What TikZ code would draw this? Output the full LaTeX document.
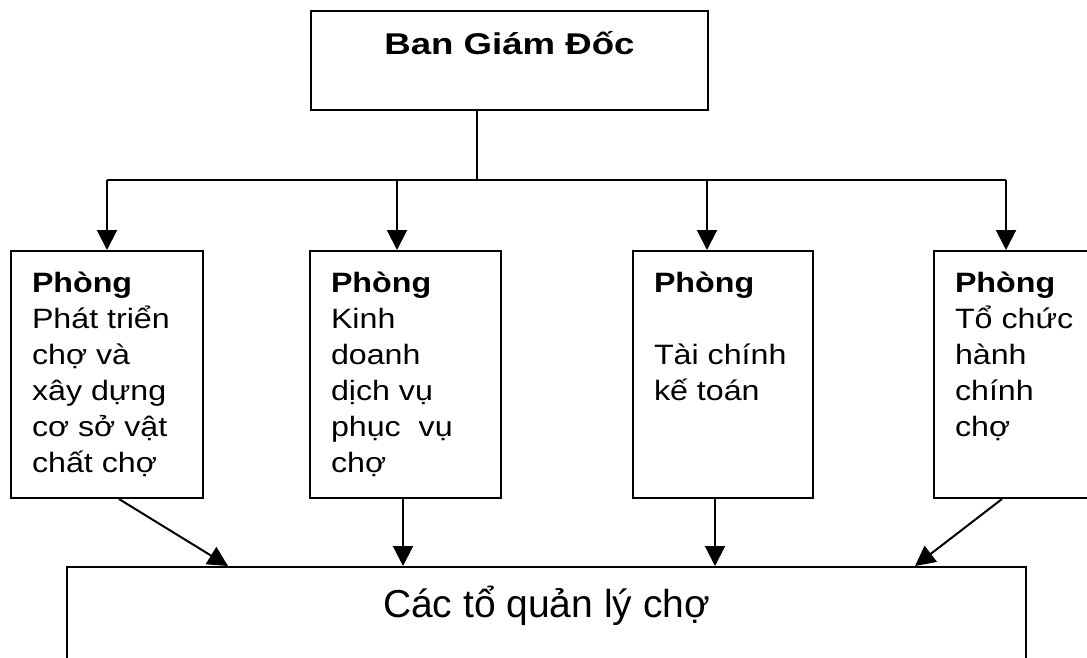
\documentclass[tikz,border=0pt]{standalone}
\usepackage{fontspec}
\setmainfont{Liberation Sans}
\newfontfamily\titlefont[FakeStretch=1.22]{Liberation Sans}
\newfontfamily\deptfont[FakeStretch=1.15]{Liberation Sans}
\usetikzlibrary{arrows.meta, positioning, calc}
\tikzset{
  boxline/.style={draw=black, line width=2pt},
  bossbox/.style={
    boxline, minimum width=397pt, inner sep=0pt,
    text height=43pt, text depth=56pt,
    font=\titlefont\fontsize{30}{36}\selectfont\bfseries
  },
  deptbox/.style={
    boxline, anchor=north west, inner sep=21pt,
    minimum height=247pt, font=\deptfont\fontsize{28}{36}\selectfont
  },
  unitbox/.style={
    boxline, minimum width=959pt, inner sep=0pt,
    text height=50pt, text depth=90pt,
    font=\fontsize{39}{46}\selectfont
  },
  busline/.style={line width=2pt},
  arrowdown/.style={-{Triangle[length=20pt, width=20pt]}, line width=2pt}
}
\newcommand{\depttext}[2]{\parbox[t][205pt][t]{#1}{\raggedright #2}}

\begin{document}
\begin{tikzpicture}[x=1pt, y=-1pt]
  \useasboundingbox (0,0) rectangle (1087,657);
  \fill[white] (0,0) rectangle (1087,657);
  \clip (0,0) rectangle (1087,657);

  % Board of directors
  \node[bossbox] (boss) at (509.5, 60.5) {Ban Giám Đốc};

  % Departments
  \node[deptbox] (d1) at (10, 250)
    {\depttext{150pt}{\textbf{Phòng}\\Phát triển\\chợ và\\xây dựng\\cơ sở vật\\chất chợ}};
  \node[deptbox] (d2) at (309, 250)
    {\depttext{149pt}{\textbf{Phòng}\\Kinh\\doanh\\dịch vụ\\phục~~vụ\\chợ}};
  \node[deptbox] (d3) at (632, 250)
    {\depttext{138pt}{\textbf{Phòng}\\[\baselineskip]Tài chính\\kế toán}};
  \node[deptbox] (d4) at (933, 250)
    {\depttext{150pt}{\textbf{Phòng}\\Tổ chức\\hành\\chính\\chợ}};

  % Market teams
  \node[unitbox] (units) at (546.5, 637) {Các tổ quản lý chợ};

  % Top distribution
  \coordinate (bus) at (477, 180);
  \draw[busline] (boss.south -| bus) -- (bus);
  \draw[busline] (d1.north |- bus) -- ([xshift=-24pt]d4.north |- bus);
  \draw[arrowdown] (d1.north |- bus) -- (d1.north);
  \draw[arrowdown] ([xshift=-8.5pt]d2.north |- bus) -- ([xshift=-8.5pt]d2.north);
  \draw[arrowdown] ([xshift=-16pt]d3.north |- bus) -- ([xshift=-16pt]d3.north);
  \draw[arrowdown] ([xshift=-24pt]d4.north |- bus) -- ([xshift=-24pt]d4.north);

  % Down to market teams
  \draw[arrowdown] ([xshift=12pt]d1.south) -- ([xshift=-318.5pt]units.north);
  \draw[arrowdown] ([xshift=-2.5pt]d2.south) -- ([xshift=-2.5pt]d2.south |- units.north);
  \draw[arrowdown] ([xshift=-8pt]d3.south) -- ([xshift=-8pt]d3.south |- units.north);
  \draw[arrowdown] ([xshift=-28pt]d4.south) -- ([xshift=368.5pt]units.north);
\end{tikzpicture}
\end{document}
